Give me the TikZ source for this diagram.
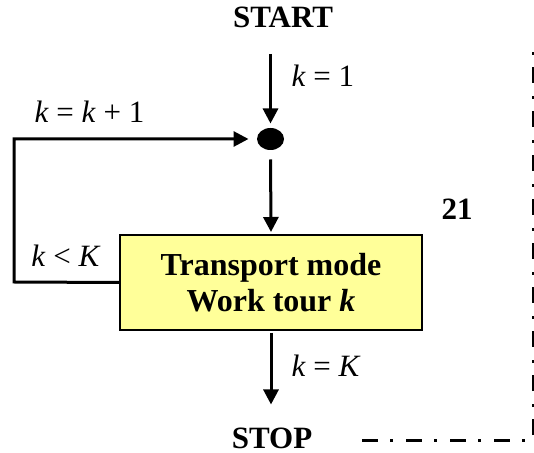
\documentclass[tikz,border=0pt]{standalone}
\usepackage{fontspec}
\setmainfont{Liberation Serif}
\usetikzlibrary{arrows.meta,shapes.geometric}
\definecolor{boxyellow}{HTML}{FFFF99}
\tikzset{
  lbl/.style={anchor=base west, inner sep=0pt, font=\fontsize{15.5}{18}\selectfont},
  title/.style={anchor=base, inner sep=0pt, font=\fontsize{15.5}{18}\selectfont\bfseries},
}

\begin{document}
\begin{tikzpicture}[x=0.5pt, y=-0.5pt, >={Triangle[length=7.5pt,width=7.5pt]}, line width=1.5pt]
  \useasboundingbox (0,0) rectangle (534,453);
  \node[title] (start) at (283,28) {START};
  \node[title] (stop) at (272,448) {STOP};
  \node[ellipse, fill=black, inner sep=0pt, minimum width=13.5pt, minimum height=11pt] (dot) at (270.5,139) {};
  \node[draw, line width=1pt, fill=boxyellow, minimum width=151pt, minimum height=47.5pt, align=center, font=\fontsize{16}{18}\selectfont\bfseries] (mode) at (271,282.5) {Transport mode\\Work tour \textit{k}};
  \coordinate (loop) at (14,282);
  \draw[->, shorten <=12pt, shorten >=1.5pt] (dot.north |- start.south) -- (dot.north);
  \draw[->, shorten <=4pt, shorten >=1pt] (dot.south) -- (mode.north);
  \draw[->, shorten >=3.5pt] (mode.west) -- (loop) |- (dot.west);
  \draw[->, shorten <=1pt, shorten >=10.75pt] (mode.south) -- (mode.south |- stop.north);
  \node[lbl] (kone) at (290,87) {\textit{k} = 1};
  \node[lbl] (knext) at (33,123) {\textit{k} = \textit{k} + 1};
  \node[lbl] (kless) at (30,267) {\textit{k} < \textit{K}};
  \node[lbl] (kend) at (290,377) {\textit{k} = \textit{K}};
  \node[title, anchor=base west] (num) at (440,220) {21};
  % dash-dot frame
  \coordinate (dtop) at (533,42);
  \coordinate (dend) at (362,440);
  \draw[dash pattern=on 8pt off 6pt on 1.5pt off 6.5pt] (dend) -| (dtop);
\end{tikzpicture}
\end{document}
